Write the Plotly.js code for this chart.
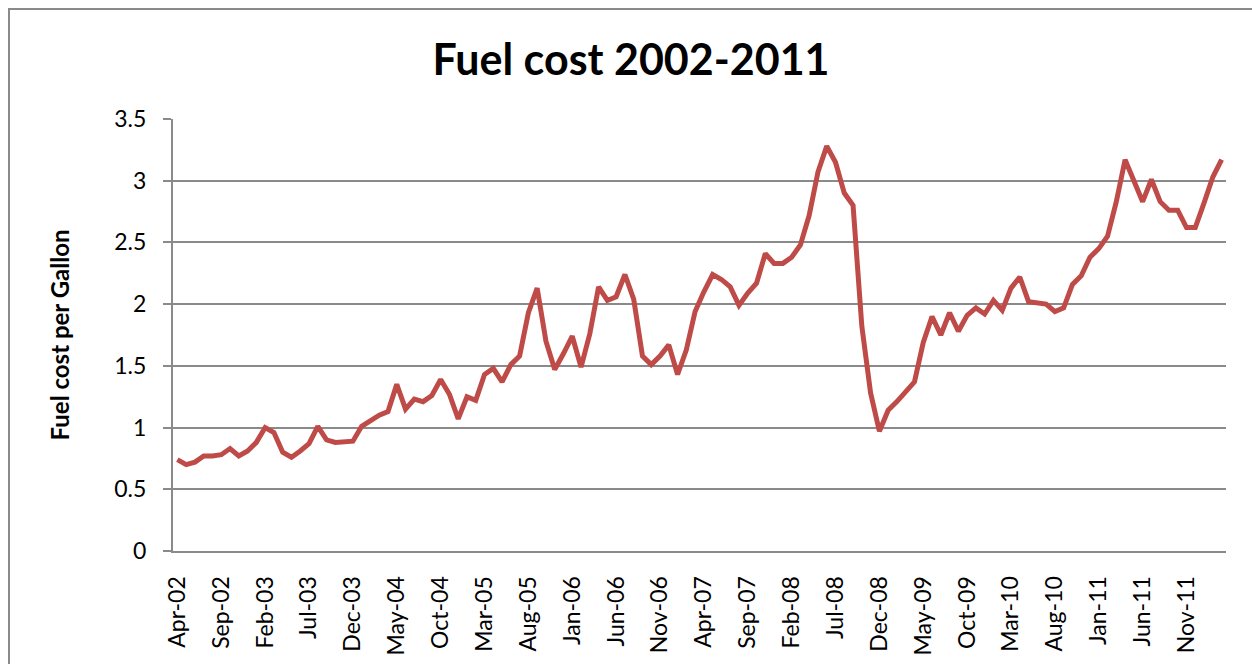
<!DOCTYPE html>
<html>
<head>
<meta charset="utf-8">
<script src="https://cdn.plot.ly/plotly-3.0.1.min.js"></script>
<style>
  html, body { margin: 0; padding: 0; background: #fff; overflow: hidden; }
  #frame { position: absolute; left: 8px; top: 8px; width: 1300px; height: 720px; border: 2px solid #8a8a8a; box-sizing: border-box; }
  #chart { position: absolute; left: 0; top: 0; width: 1252px; height: 664px; }
</style>
</head>
<body>
<div id="frame"></div>
<div id="chart"></div>
<script>
const months = [
  "Apr-02","May-02","Jun-02","Jul-02","Aug-02","Sep-02","Oct-02","Nov-02","Dec-02",
  "Jan-03","Feb-03","Mar-03","Apr-03","May-03","Jun-03","Jul-03","Aug-03","Sep-03","Oct-03","Nov-03","Dec-03",
  "Jan-04","Feb-04","Mar-04","Apr-04","May-04","Jun-04","Jul-04","Aug-04","Sep-04","Oct-04","Nov-04","Dec-04",
  "Jan-05","Feb-05","Mar-05","Apr-05","May-05","Jun-05","Jul-05","Aug-05","Sep-05","Oct-05","Nov-05","Dec-05",
  "Jan-06","Feb-06","Mar-06","Apr-06","May-06","Jun-06","Jul-06","Aug-06","Sep-06","Oct-06","Nov-06","Dec-06",
  "Jan-07","Feb-07","Mar-07","Apr-07","May-07","Jun-07","Jul-07","Aug-07","Sep-07","Oct-07","Nov-07","Dec-07",
  "Jan-08","Feb-08","Mar-08","Apr-08","May-08","Jun-08","Jul-08","Aug-08","Sep-08","Oct-08","Nov-08","Dec-08",
  "Jan-09","Feb-09","Mar-09","Apr-09","May-09","Jun-09","Jul-09","Aug-09","Sep-09","Oct-09","Nov-09","Dec-09",
  "Jan-10","Feb-10","Mar-10","Apr-10","May-10","Jun-10","Jul-10","Aug-10","Sep-10","Oct-10","Nov-10","Dec-10",
  "Jan-11","Feb-11","Mar-11","Apr-11","May-11","Jun-11","Jul-11","Aug-11","Sep-11","Oct-11","Nov-11","Dec-11",
  "Jan-12","Feb-12","Mar-12"
];

const fuelCost = [
  0.74,0.70,0.72,0.77,0.77,0.78,0.83,0.77,0.81,
  0.88,1.00,0.96,0.80,0.76,0.81,0.87,1.01,0.90,0.88,0.88,0.89,
  1.01,1.06,1.10,1.13,1.35,1.15,1.23,1.21,1.26,1.39,1.27,1.07,
  1.25,1.22,1.43,1.48,1.37,1.51,1.58,1.93,2.13,1.70,1.47,1.60,
  1.74,1.49,1.76,2.14,2.03,2.06,2.24,2.04,1.58,1.51,1.58,1.67,
  1.43,1.63,1.94,2.10,2.24,2.20,2.14,1.99,2.09,2.17,2.41,2.33,
  2.33,2.38,2.48,2.72,3.07,3.28,3.15,2.90,2.80,1.82,1.28,0.97,
  1.14,1.21,1.29,1.37,1.69,1.90,1.75,1.93,1.78,1.91,1.97,1.92,
  2.03,1.95,2.13,2.22,2.02,2.01,2.00,1.94,1.97,2.16,2.23,2.38,
  2.45,2.55,2.83,3.17,3.01,2.83,3.01,2.83,2.76,2.76,2.62,2.62,
  2.82,3.03,3.17
];

const xTickLabels = ["Apr-02","Sep-02","Feb-03","Jul-03","Dec-03","May-04","Oct-04","Mar-05",
  "Aug-05","Jan-06","Jun-06","Nov-06","Apr-07","Sep-07","Feb-08","Jul-08","Dec-08","May-09",
  "Oct-09","Mar-10","Aug-10","Jan-11","Jun-11","Nov-11"];

const yTicks = [0, 0.5, 1, 1.5, 2, 2.5, 3, 3.5];
const yTickLabels = ["0", "0.5", "1", "1.5", "2", "2.5", "3", "3.5"];

const chartTitle = "Fuel cost 2002-2011";
const yTitle = "Fuel cost per Gallon";

const FONT = "Lato, 'Open Sans', sans-serif";
const GRID = "#8a8a8a";

const trace = {
  x: months,
  y: fuelCost,
  type: "scatter",
  mode: "lines",
  line: { color: "#BE4B48", width: 5 },
  hoverinfo: "x+y"
};

const layout = {
  width: 1252,
  height: 664,
  paper_bgcolor: "rgba(0,0,0,0)",
  plot_bgcolor: "#ffffff",
  margin: { l: 173, r: 26, t: 119, b: 113 },
  showlegend: false,
  title: {
    text: "<b>" + chartTitle + "</b>",
    font: { family: FONT, size: 43, color: "#000000" },
    x: 631 / 1252, xanchor: "center", xref: "container",
    y: 1 - 60 / 664, yanchor: "middle", yref: "container"
  },
  xaxis: {
    type: "category",
    categoryorder: "array",
    categoryarray: months,
    range: [-0.5, months.length - 0.5],
    tickmode: "array",
    tickvals: xTickLabels,
    ticktext: xTickLabels,
    tickangle: -90,
    ticks: "",
    ticklabelstandoff: 14,
    tickfont: { family: FONT, size: 23, color: "#000000" },
    showline: true,
    linecolor: GRID,
    linewidth: 2,
    showgrid: false,
    zeroline: false
  },
  yaxis: {
    range: [0, 3.5],
    tickmode: "array",
    tickvals: yTicks,
    ticktext: yTickLabels,
    ticks: "outside",
    ticklen: 8,
    tickwidth: 2,
    tickcolor: GRID,
    ticklabelstandoff: 12,
    tickfont: { family: FONT, size: 23, color: "#000000" },
    showline: true,
    linecolor: GRID,
    linewidth: 2,
    showgrid: true,
    gridcolor: GRID,
    gridwidth: 2,
    zeroline: false,
    title: {
      text: "<b>" + yTitle + "</b>",
      font: { family: FONT, size: 24, color: "#000000" },
      standoff: 38
    }
  }
};

Plotly.newPlot("chart", [trace], layout, { displayModeBar: false, staticPlot: true });
</script>
</body>
</html>
